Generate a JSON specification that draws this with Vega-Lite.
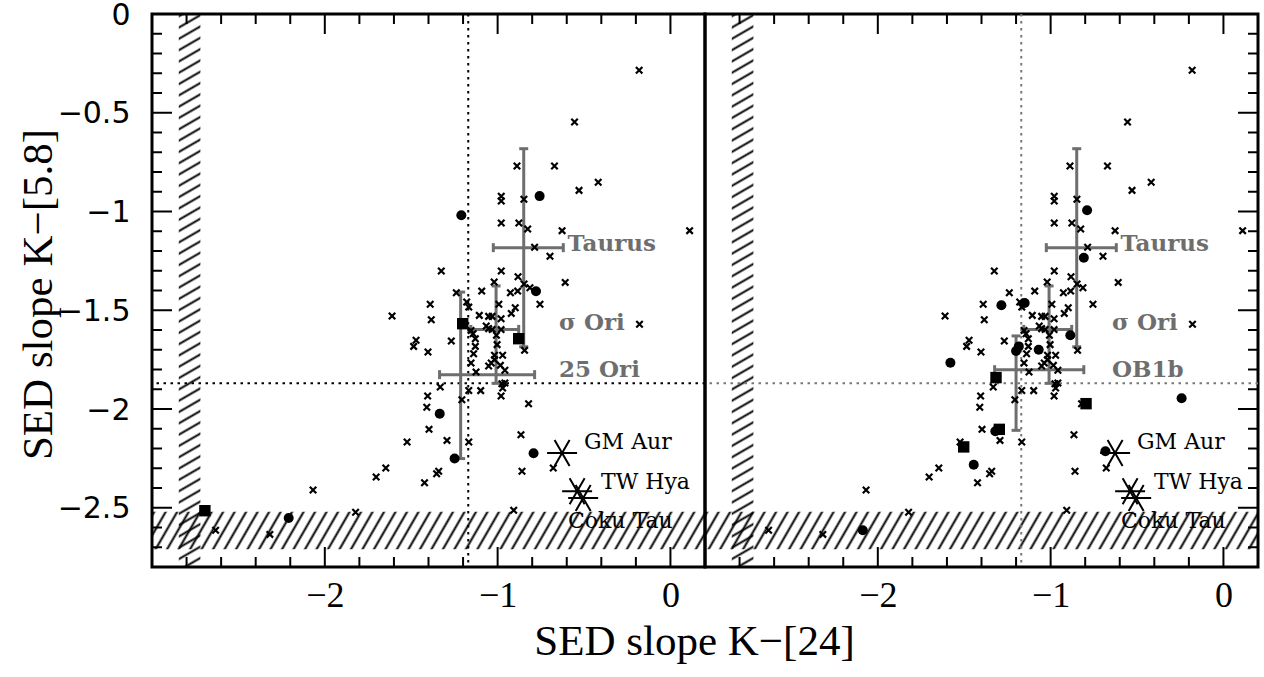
{
"$schema": "https://vega.github.io/schema/vega-lite/v6.json",
"background": "white",
"padding": {"left": 15, "top": -2, "right": 5, "bottom": 5},
"spacing": 0,
"bounds": "flush",
"config": {
 "view": {"stroke": "#000", "strokeWidth": 3},
 "axis": {"domain": false, "ticks": false, "grid": false, "labelColor": "#000", "titleColor": "#000", "zindex": 2},
 "rect": {"stroke": null, "color": {"gradient": "linear", "x1": 0, "y1": 0, "x2": 0.02305, "y2": 1.02203, "stops": [
{"offset":0,"color":"#0000"},{"offset":0.004,"color":"#000"},{"offset":0.008,"color":"#0000"},
{"offset":0.02,"color":"#0000"},{"offset":0.024,"color":"#000"},{"offset":0.028,"color":"#0000"},
{"offset":0.04,"color":"#0000"},{"offset":0.044,"color":"#000"},{"offset":0.048,"color":"#0000"},
{"offset":0.06,"color":"#0000"},{"offset":0.064,"color":"#000"},{"offset":0.068,"color":"#0000"},
{"offset":0.08,"color":"#0000"},{"offset":0.084,"color":"#000"},{"offset":0.088,"color":"#0000"},
{"offset":0.1,"color":"#0000"},{"offset":0.104,"color":"#000"},{"offset":0.108,"color":"#0000"},
{"offset":0.12,"color":"#0000"},{"offset":0.124,"color":"#000"},{"offset":0.128,"color":"#0000"},
{"offset":0.14,"color":"#0000"},{"offset":0.144,"color":"#000"},{"offset":0.148,"color":"#0000"},
{"offset":0.16,"color":"#0000"},{"offset":0.164,"color":"#000"},{"offset":0.168,"color":"#0000"},
{"offset":0.18,"color":"#0000"},{"offset":0.184,"color":"#000"},{"offset":0.188,"color":"#0000"},
{"offset":0.2,"color":"#0000"},{"offset":0.204,"color":"#000"},{"offset":0.208,"color":"#0000"},
{"offset":0.22,"color":"#0000"},{"offset":0.224,"color":"#000"},{"offset":0.228,"color":"#0000"},
{"offset":0.24,"color":"#0000"},{"offset":0.244,"color":"#000"},{"offset":0.248,"color":"#0000"},
{"offset":0.26,"color":"#0000"},{"offset":0.264,"color":"#000"},{"offset":0.268,"color":"#0000"},
{"offset":0.28,"color":"#0000"},{"offset":0.284,"color":"#000"},{"offset":0.288,"color":"#0000"},
{"offset":0.3,"color":"#0000"},{"offset":0.304,"color":"#000"},{"offset":0.308,"color":"#0000"},
{"offset":0.32,"color":"#0000"},{"offset":0.324,"color":"#000"},{"offset":0.328,"color":"#0000"},
{"offset":0.34,"color":"#0000"},{"offset":0.344,"color":"#000"},{"offset":0.348,"color":"#0000"},
{"offset":0.36,"color":"#0000"},{"offset":0.364,"color":"#000"},{"offset":0.368,"color":"#0000"},
{"offset":0.38,"color":"#0000"},{"offset":0.384,"color":"#000"},{"offset":0.388,"color":"#0000"},
{"offset":0.4,"color":"#0000"},{"offset":0.404,"color":"#000"},{"offset":0.408,"color":"#0000"},
{"offset":0.42,"color":"#0000"},{"offset":0.424,"color":"#000"},{"offset":0.428,"color":"#0000"},
{"offset":0.44,"color":"#0000"},{"offset":0.444,"color":"#000"},{"offset":0.448,"color":"#0000"},
{"offset":0.46,"color":"#0000"},{"offset":0.464,"color":"#000"},{"offset":0.468,"color":"#0000"},
{"offset":0.48,"color":"#0000"},{"offset":0.484,"color":"#000"},{"offset":0.488,"color":"#0000"},
{"offset":0.5,"color":"#0000"},{"offset":0.504,"color":"#000"},{"offset":0.508,"color":"#0000"},
{"offset":0.52,"color":"#0000"},{"offset":0.524,"color":"#000"},{"offset":0.528,"color":"#0000"},
{"offset":0.54,"color":"#0000"},{"offset":0.544,"color":"#000"},{"offset":0.548,"color":"#0000"},
{"offset":0.56,"color":"#0000"},{"offset":0.564,"color":"#000"},{"offset":0.568,"color":"#0000"},
{"offset":0.58,"color":"#0000"},{"offset":0.584,"color":"#000"},{"offset":0.588,"color":"#0000"},
{"offset":0.6,"color":"#0000"},{"offset":0.604,"color":"#000"},{"offset":0.608,"color":"#0000"},
{"offset":0.62,"color":"#0000"},{"offset":0.624,"color":"#000"},{"offset":0.628,"color":"#0000"},
{"offset":0.64,"color":"#0000"},{"offset":0.644,"color":"#000"},{"offset":0.648,"color":"#0000"},
{"offset":0.66,"color":"#0000"},{"offset":0.664,"color":"#000"},{"offset":0.668,"color":"#0000"},
{"offset":0.68,"color":"#0000"},{"offset":0.684,"color":"#000"},{"offset":0.688,"color":"#0000"},
{"offset":0.7,"color":"#0000"},{"offset":0.704,"color":"#000"},{"offset":0.708,"color":"#0000"},
{"offset":0.72,"color":"#0000"},{"offset":0.724,"color":"#000"},{"offset":0.728,"color":"#0000"},
{"offset":0.74,"color":"#0000"},{"offset":0.744,"color":"#000"},{"offset":0.748,"color":"#0000"},
{"offset":0.76,"color":"#0000"},{"offset":0.764,"color":"#000"},{"offset":0.768,"color":"#0000"},
{"offset":0.78,"color":"#0000"},{"offset":0.784,"color":"#000"},{"offset":0.788,"color":"#0000"},
{"offset":0.8,"color":"#0000"},{"offset":0.804,"color":"#000"},{"offset":0.808,"color":"#0000"},
{"offset":0.82,"color":"#0000"},{"offset":0.824,"color":"#000"},{"offset":0.828,"color":"#0000"},
{"offset":0.84,"color":"#0000"},{"offset":0.844,"color":"#000"},{"offset":0.848,"color":"#0000"},
{"offset":0.86,"color":"#0000"},{"offset":0.864,"color":"#000"},{"offset":0.868,"color":"#0000"},
{"offset":0.88,"color":"#0000"},{"offset":0.884,"color":"#000"},{"offset":0.888,"color":"#0000"},
{"offset":0.9,"color":"#0000"},{"offset":0.904,"color":"#000"},{"offset":0.908,"color":"#0000"},
{"offset":0.92,"color":"#0000"},{"offset":0.924,"color":"#000"},{"offset":0.928,"color":"#0000"},
{"offset":0.94,"color":"#0000"},{"offset":0.944,"color":"#000"},{"offset":0.948,"color":"#0000"},
{"offset":0.96,"color":"#0000"},{"offset":0.964,"color":"#000"},{"offset":0.968,"color":"#0000"},
{"offset":0.98,"color":"#0000"},{"offset":0.984,"color":"#000"},{"offset":0.988,"color":"#0000"}
 ]}}
},
"datasets": {
 "limits": [
  {"band": "K-[24]", "xlo": -2.845, "xhi": -2.72, "ylo": -2.8, "yhi": 0},
  {"band": "K-[5.8]", "xlo": -3, "xhi": 0.2, "ylo": -2.71, "yhi": -2.52}
 ],
 "xticks": [
  {"k24": -2.8, "major": false, "edge": "bottom", "k58": -2.8}, {"k24": -2.6, "major": false, "edge": "bottom", "k58": -2.8}, {"k24": -2.4, "major": false, "edge": "bottom", "k58": -2.8},
  {"k24": -2.2, "major": false, "edge": "bottom", "k58": -2.8}, {"k24": -2, "major": true, "edge": "bottom", "k58": -2.8}, {"k24": -1.8, "major": false, "edge": "bottom", "k58": -2.8},
  {"k24": -1.6, "major": false, "edge": "bottom", "k58": -2.8}, {"k24": -1.4, "major": false, "edge": "bottom", "k58": -2.8}, {"k24": -1.2, "major": false, "edge": "bottom", "k58": -2.8},
  {"k24": -1, "major": true, "edge": "bottom", "k58": -2.8}, {"k24": -0.8, "major": false, "edge": "bottom", "k58": -2.8}, {"k24": -0.6, "major": false, "edge": "bottom", "k58": -2.8},
  {"k24": -0.4, "major": false, "edge": "bottom", "k58": -2.8}, {"k24": -0.2, "major": false, "edge": "bottom", "k58": -2.8}, {"k24": 0, "major": true, "edge": "bottom", "k58": -2.8},
  {"k24": -2.8, "major": false, "edge": "top", "k58": 0}, {"k24": -2.6, "major": false, "edge": "top", "k58": 0}, {"k24": -2.4, "major": false, "edge": "top", "k58": 0},
  {"k24": -2.2, "major": false, "edge": "top", "k58": 0}, {"k24": -2, "major": true, "edge": "top", "k58": 0}, {"k24": -1.8, "major": false, "edge": "top", "k58": 0},
  {"k24": -1.6, "major": false, "edge": "top", "k58": 0}, {"k24": -1.4, "major": false, "edge": "top", "k58": 0}, {"k24": -1.2, "major": false, "edge": "top", "k58": 0},
  {"k24": -1, "major": true, "edge": "top", "k58": 0}, {"k24": -0.8, "major": false, "edge": "top", "k58": 0}, {"k24": -0.6, "major": false, "edge": "top", "k58": 0},
  {"k24": -0.4, "major": false, "edge": "top", "k58": 0}, {"k24": -0.2, "major": false, "edge": "top", "k58": 0}, {"k24": 0, "major": true, "edge": "top", "k58": 0}
 ],
 "yticks": [
  {"k58": -0.1, "major": false, "edge": "left", "k24": -3}, {"k58": -0.2, "major": false, "edge": "left", "k24": -3}, {"k58": -0.3, "major": false, "edge": "left", "k24": -3},
  {"k58": -0.4, "major": false, "edge": "left", "k24": -3}, {"k58": -0.5, "major": true, "edge": "left", "k24": -3}, {"k58": -0.6, "major": false, "edge": "left", "k24": -3},
  {"k58": -0.7, "major": false, "edge": "left", "k24": -3}, {"k58": -0.8, "major": false, "edge": "left", "k24": -3}, {"k58": -0.9, "major": false, "edge": "left", "k24": -3},
  {"k58": -1, "major": true, "edge": "left", "k24": -3}, {"k58": -1.1, "major": false, "edge": "left", "k24": -3}, {"k58": -1.2, "major": false, "edge": "left", "k24": -3},
  {"k58": -1.3, "major": false, "edge": "left", "k24": -3}, {"k58": -1.4, "major": false, "edge": "left", "k24": -3}, {"k58": -1.5, "major": true, "edge": "left", "k24": -3},
  {"k58": -1.6, "major": false, "edge": "left", "k24": -3}, {"k58": -1.7, "major": false, "edge": "left", "k24": -3}, {"k58": -1.8, "major": false, "edge": "left", "k24": -3},
  {"k58": -1.9, "major": false, "edge": "left", "k24": -3}, {"k58": -2, "major": true, "edge": "left", "k24": -3}, {"k58": -2.1, "major": false, "edge": "left", "k24": -3},
  {"k58": -2.2, "major": false, "edge": "left", "k24": -3}, {"k58": -2.3, "major": false, "edge": "left", "k24": -3}, {"k58": -2.4, "major": false, "edge": "left", "k24": -3},
  {"k58": -2.5, "major": true, "edge": "left", "k24": -3}, {"k58": -2.6, "major": false, "edge": "left", "k24": -3}, {"k58": -2.7, "major": false, "edge": "left", "k24": -3},
  {"k58": -0.1, "major": false, "edge": "right", "k24": 0.2}, {"k58": -0.2, "major": false, "edge": "right", "k24": 0.2}, {"k58": -0.3, "major": false, "edge": "right", "k24": 0.2},
  {"k58": -0.4, "major": false, "edge": "right", "k24": 0.2}, {"k58": -0.5, "major": true, "edge": "right", "k24": 0.2}, {"k58": -0.6, "major": false, "edge": "right", "k24": 0.2},
  {"k58": -0.7, "major": false, "edge": "right", "k24": 0.2}, {"k58": -0.8, "major": false, "edge": "right", "k24": 0.2}, {"k58": -0.9, "major": false, "edge": "right", "k24": 0.2},
  {"k58": -1, "major": true, "edge": "right", "k24": 0.2}, {"k58": -1.1, "major": false, "edge": "right", "k24": 0.2}, {"k58": -1.2, "major": false, "edge": "right", "k24": 0.2},
  {"k58": -1.3, "major": false, "edge": "right", "k24": 0.2}, {"k58": -1.4, "major": false, "edge": "right", "k24": 0.2}, {"k58": -1.5, "major": true, "edge": "right", "k24": 0.2},
  {"k58": -1.6, "major": false, "edge": "right", "k24": 0.2}, {"k58": -1.7, "major": false, "edge": "right", "k24": 0.2}, {"k58": -1.8, "major": false, "edge": "right", "k24": 0.2},
  {"k58": -1.9, "major": false, "edge": "right", "k24": 0.2}, {"k58": -2, "major": true, "edge": "right", "k24": 0.2}, {"k58": -2.1, "major": false, "edge": "right", "k24": 0.2},
  {"k58": -2.2, "major": false, "edge": "right", "k24": 0.2}, {"k58": -2.3, "major": false, "edge": "right", "k24": 0.2}, {"k58": -2.4, "major": false, "edge": "right", "k24": 0.2},
  {"k58": -2.5, "major": true, "edge": "right", "k24": 0.2}, {"k58": -2.6, "major": false, "edge": "right", "k24": 0.2}, {"k58": -2.7, "major": false, "edge": "right", "k24": 0.2}
 ],
 "cuts": [{"k24": -1.17, "k58": -1.87}],
 "groups": [
  {"name": "Taurus", "panel": "both", "k24": -0.849, "k58": -1.183, "lo24": -1.025, "hi24": -0.62, "lo58": -1.685, "hi58": -0.682, "lab24": -0.595, "lab58": -1.165},
  {"name": "σ Ori", "panel": "both", "k24": -1.009, "k58": -1.597, "lo24": -1.155, "hi24": -0.878, "lo58": -1.87, "hi58": -1.377, "lab24": -0.645, "lab58": -1.565},
  {"name": "25 Ori", "panel": "left", "k24": -1.214, "k58": -1.826, "lo24": -1.336, "hi24": -0.786, "lo58": -2.251, "hi58": -1.408, "lab24": -0.645, "lab58": -1.803},
  {"name": "OB1b", "panel": "right", "k24": -1.2, "k58": -1.801, "lo24": -1.324, "hi24": -0.808, "lo58": -2.108, "hi58": -1.63, "lab24": -0.645, "lab58": -1.803}
 ],
 "stars": [
  {"name": "GM Aur", "k24": -0.627, "k58": -2.223, "lab24": -0.5, "lab58": -2.167},
  {"name": "TW Hya", "k24": -0.54, "k58": -2.417, "lab24": -0.402, "lab58": -2.37},
  {"name": "Coku Tau", "k24": -0.505, "k58": -2.451, "lab24": -0.593, "lab58": -2.567}
 ],
 "orion": [
  {"region": "25 Ori", "kind": "circle", "k24": -0.757, "k58": -0.922},
  {"region": "25 Ori", "kind": "circle", "k24": -1.21, "k58": -1.019},
  {"region": "25 Ori", "kind": "circle", "k24": -0.778, "k58": -1.404},
  {"region": "25 Ori", "kind": "circle", "k24": -1.335, "k58": -2.024},
  {"region": "25 Ori", "kind": "circle", "k24": -0.792, "k58": -2.224},
  {"region": "25 Ori", "kind": "circle", "k24": -1.249, "k58": -2.251},
  {"region": "25 Ori", "kind": "circle", "k24": -2.209, "k58": -2.552},
  {"region": "25 Ori", "kind": "square", "k24": -1.202, "k58": -1.568},
  {"region": "25 Ori", "kind": "square", "k24": -0.878, "k58": -1.644},
  {"region": "25 Ori", "kind": "square", "k24": -2.694, "k58": -2.515},
  {"region": "OB1b", "kind": "circle", "k24": -0.789, "k58": -0.994},
  {"region": "OB1b", "kind": "circle", "k24": -0.808, "k58": -1.234},
  {"region": "OB1b", "kind": "circle", "k24": -1.285, "k58": -1.475},
  {"region": "OB1b", "kind": "circle", "k24": -1.15, "k58": -1.463},
  {"region": "OB1b", "kind": "circle", "k24": -1.58, "k58": -1.766},
  {"region": "OB1b", "kind": "circle", "k24": -1.184, "k58": -1.683},
  {"region": "OB1b", "kind": "circle", "k24": -1.2, "k58": -1.706},
  {"region": "OB1b", "kind": "circle", "k24": -1.069, "k58": -1.7},
  {"region": "OB1b", "kind": "circle", "k24": -0.886, "k58": -1.627},
  {"region": "OB1b", "kind": "circle", "k24": -1.32, "k58": -2.113},
  {"region": "OB1b", "kind": "circle", "k24": -1.445, "k58": -2.282},
  {"region": "OB1b", "kind": "circle", "k24": -0.683, "k58": -2.214},
  {"region": "OB1b", "kind": "circle", "k24": -0.242, "k58": -1.946},
  {"region": "OB1b", "kind": "circle", "k24": -2.087, "k58": -2.614},
  {"region": "OB1b", "kind": "square", "k24": -1.316, "k58": -1.841},
  {"region": "OB1b", "kind": "square", "k24": -0.795, "k58": -1.973},
  {"region": "OB1b", "kind": "square", "k24": -1.297, "k58": -2.103},
  {"region": "OB1b", "kind": "square", "k24": -1.503, "k58": -2.192}
 ],
 "taurus": [
  {"k24":-0.181,"k58":-0.285},{"k24":-0.555,"k58":-0.547},{"k24":-0.888,"k58":-0.77},{"k24":-0.671,"k58":-0.77},
  {"k24":-0.418,"k58":-0.852},{"k24":-0.529,"k58":-0.893},{"k24":-0.979,"k58":-0.923},{"k24":-0.979,"k58":-0.947},
  {"k24":-0.848,"k58":-0.938},{"k24":-0.979,"k58":-1.058},{"k24":-0.877,"k58":-1.058},{"k24":-0.826,"k58":-1.089},
  {"k24":-0.627,"k58":-1.097},{"k24":0.111,"k58":-1.097},{"k24":-0.786,"k58":-1.181},{"k24":-0.697,"k58":-1.227},
  {"k24":-1.326,"k58":-1.301},{"k24":-0.979,"k58":-1.301},{"k24":-0.882,"k58":-1.33},{"k24":-1.02,"k58":-1.357},
  {"k24":-0.847,"k58":-1.367},{"k24":-0.609,"k58":-1.359},{"k24":-0.813,"k58":-1.386},{"k24":-1.239,"k58":-1.411},
  {"k24":-1.092,"k58":-1.403},{"k24":-0.926,"k58":-1.411},{"k24":-0.884,"k58":-1.403},{"k24":-1.179,"k58":-1.458},
  {"k24":-1.167,"k58":-1.484},{"k24":-1.39,"k58":-1.47},{"k24":-0.993,"k58":-1.47},{"k24":-0.755,"k58":-1.47},
  {"k24":-0.898,"k58":-1.487},{"k24":-0.921,"k58":-1.516},{"k24":-1.106,"k58":-1.526},{"k24":-1.052,"k58":-1.531},
  {"k24":-1.032,"k58":-1.531},{"k24":-0.98,"k58":-1.543},{"k24":-1.384,"k58":-1.548},{"k24":-1.611,"k58":-1.529},
  {"k24":-1.154,"k58":-1.602},{"k24":-1.142,"k58":-1.619},{"k24":-1.066,"k58":-1.58},{"k24":-1.052,"k58":-1.593},
  {"k24":-1.032,"k58":-1.597},{"k24":-0.98,"k58":-1.598},{"k24":-0.844,"k58":-1.703},{"k24":-1.007,"k58":-1.627},
  {"k24":-1.003,"k58":-1.674},{"k24":-1.129,"k58":-1.644},{"k24":-1.129,"k58":-1.683},{"k24":-1.472,"k58":-1.652},
  {"k24":-1.486,"k58":-1.683},{"k24":-1.268,"k58":-1.656},{"k24":-1.403,"k58":-1.711},{"k24":-1.139,"k58":-1.72},
  {"k24":-1.018,"k58":-1.728},{"k24":-0.971,"k58":-1.728},{"k24":-1.018,"k58":-1.75},{"k24":-1.154,"k58":-1.767},
  {"k24":-1.052,"k58":-1.782},{"k24":-1.037,"k58":-1.767},{"k24":-0.984,"k58":-1.779},{"k24":-0.958,"k58":-1.804},
  {"k24":-1.125,"k58":-1.813},{"k24":-1.332,"k58":-1.889},{"k24":-1.167,"k58":-1.906},{"k24":-1.098,"k58":-1.907},
  {"k24":-0.975,"k58":-1.872},{"k24":-0.958,"k58":-1.868},{"k24":-0.971,"k58":-1.894},{"k24":-0.98,"k58":-1.934},
  {"k24":-1.405,"k58":-1.934},{"k24":-1.41,"k58":-1.991},{"k24":-1.207,"k58":-1.953},{"k24":-0.821,"k58":-1.973},
  {"k24":-1.397,"k58":-2.103},{"k24":-1.524,"k58":-2.167},{"k24":-1.293,"k58":-2.159},{"k24":-1.167,"k58":-2.167},
  {"k24":-0.865,"k58":-2.13},{"k24":-0.678,"k58":-2.299},{"k24":-1.341,"k58":-2.315},{"k24":-0.859,"k58":-2.315},
  {"k24":-1.703,"k58":-2.344},{"k24":-1.647,"k58":-2.299},{"k24":-1.423,"k58":-2.373},{"k24":-1.353,"k58":-2.328},
  {"k24":-2.068,"k58":-2.41},{"k24":-1.822,"k58":-2.523},{"k24":-0.907,"k58":-2.513},{"k24":-2.632,"k58":-2.614},
  {"k24":-2.318,"k58":-2.635},{"k24":-0.179,"k58":-1.571}
 ]
},
"hconcat": [
 {
  "width": 553, "height": 553,
  "resolve": {"axis": {"x": "independent", "y": "independent"}},
  "layer": [
   {"data": {"name": "limits"}, "transform": [{"filter": "datum.band == 'K-[24]'"}], "mark": {"type": "rect"},
    "encoding": {"x": {"field": "xlo", "type": "quantitative", "scale": {"domain": [-3, 0.2], "nice": false, "zero": false}, "axis": null}, "x2": {"field": "xhi"},
                 "y": {"field": "ylo", "type": "quantitative", "scale": {"domain": [-2.8, 0], "nice": false, "zero": false}, "axis": null}, "y2": {"field": "yhi"}}},
   {"data": {"name": "limits"}, "transform": [{"filter": "datum.band == 'K-[5.8]'"}],
    "mark": {"type": "rect", "color": {"gradient": "linear", "x1": 0, "y1": 0, "x2": 1.03756, "y2": 0.040625, "stops": [
{"offset":0,"color":"#0000"},{"offset":0.004,"color":"#000"},{"offset":0.008,"color":"#0000"},
{"offset":0.02,"color":"#0000"},{"offset":0.024,"color":"#000"},{"offset":0.028,"color":"#0000"},
{"offset":0.04,"color":"#0000"},{"offset":0.044,"color":"#000"},{"offset":0.048,"color":"#0000"},
{"offset":0.06,"color":"#0000"},{"offset":0.064,"color":"#000"},{"offset":0.068,"color":"#0000"},
{"offset":0.08,"color":"#0000"},{"offset":0.084,"color":"#000"},{"offset":0.088,"color":"#0000"},
{"offset":0.1,"color":"#0000"},{"offset":0.104,"color":"#000"},{"offset":0.108,"color":"#0000"},
{"offset":0.12,"color":"#0000"},{"offset":0.124,"color":"#000"},{"offset":0.128,"color":"#0000"},
{"offset":0.14,"color":"#0000"},{"offset":0.144,"color":"#000"},{"offset":0.148,"color":"#0000"},
{"offset":0.16,"color":"#0000"},{"offset":0.164,"color":"#000"},{"offset":0.168,"color":"#0000"},
{"offset":0.18,"color":"#0000"},{"offset":0.184,"color":"#000"},{"offset":0.188,"color":"#0000"},
{"offset":0.2,"color":"#0000"},{"offset":0.204,"color":"#000"},{"offset":0.208,"color":"#0000"},
{"offset":0.22,"color":"#0000"},{"offset":0.224,"color":"#000"},{"offset":0.228,"color":"#0000"},
{"offset":0.24,"color":"#0000"},{"offset":0.244,"color":"#000"},{"offset":0.248,"color":"#0000"},
{"offset":0.26,"color":"#0000"},{"offset":0.264,"color":"#000"},{"offset":0.268,"color":"#0000"},
{"offset":0.28,"color":"#0000"},{"offset":0.284,"color":"#000"},{"offset":0.288,"color":"#0000"},
{"offset":0.3,"color":"#0000"},{"offset":0.304,"color":"#000"},{"offset":0.308,"color":"#0000"},
{"offset":0.32,"color":"#0000"},{"offset":0.324,"color":"#000"},{"offset":0.328,"color":"#0000"},
{"offset":0.34,"color":"#0000"},{"offset":0.344,"color":"#000"},{"offset":0.348,"color":"#0000"},
{"offset":0.36,"color":"#0000"},{"offset":0.364,"color":"#000"},{"offset":0.368,"color":"#0000"},
{"offset":0.38,"color":"#0000"},{"offset":0.384,"color":"#000"},{"offset":0.388,"color":"#0000"},
{"offset":0.4,"color":"#0000"},{"offset":0.404,"color":"#000"},{"offset":0.408,"color":"#0000"},
{"offset":0.42,"color":"#0000"},{"offset":0.424,"color":"#000"},{"offset":0.428,"color":"#0000"},
{"offset":0.44,"color":"#0000"},{"offset":0.444,"color":"#000"},{"offset":0.448,"color":"#0000"},
{"offset":0.46,"color":"#0000"},{"offset":0.464,"color":"#000"},{"offset":0.468,"color":"#0000"},
{"offset":0.48,"color":"#0000"},{"offset":0.484,"color":"#000"},{"offset":0.488,"color":"#0000"},
{"offset":0.5,"color":"#0000"},{"offset":0.504,"color":"#000"},{"offset":0.508,"color":"#0000"},
{"offset":0.52,"color":"#0000"},{"offset":0.524,"color":"#000"},{"offset":0.528,"color":"#0000"},
{"offset":0.54,"color":"#0000"},{"offset":0.544,"color":"#000"},{"offset":0.548,"color":"#0000"},
{"offset":0.56,"color":"#0000"},{"offset":0.564,"color":"#000"},{"offset":0.568,"color":"#0000"},
{"offset":0.58,"color":"#0000"},{"offset":0.584,"color":"#000"},{"offset":0.588,"color":"#0000"},
{"offset":0.6,"color":"#0000"},{"offset":0.604,"color":"#000"},{"offset":0.608,"color":"#0000"},
{"offset":0.62,"color":"#0000"},{"offset":0.624,"color":"#000"},{"offset":0.628,"color":"#0000"},
{"offset":0.64,"color":"#0000"},{"offset":0.644,"color":"#000"},{"offset":0.648,"color":"#0000"},
{"offset":0.66,"color":"#0000"},{"offset":0.664,"color":"#000"},{"offset":0.668,"color":"#0000"},
{"offset":0.68,"color":"#0000"},{"offset":0.684,"color":"#000"},{"offset":0.688,"color":"#0000"},
{"offset":0.7,"color":"#0000"},{"offset":0.704,"color":"#000"},{"offset":0.708,"color":"#0000"},
{"offset":0.72,"color":"#0000"},{"offset":0.724,"color":"#000"},{"offset":0.728,"color":"#0000"},
{"offset":0.74,"color":"#0000"},{"offset":0.744,"color":"#000"},{"offset":0.748,"color":"#0000"},
{"offset":0.76,"color":"#0000"},{"offset":0.764,"color":"#000"},{"offset":0.768,"color":"#0000"},
{"offset":0.78,"color":"#0000"},{"offset":0.784,"color":"#000"},{"offset":0.788,"color":"#0000"},
{"offset":0.8,"color":"#0000"},{"offset":0.804,"color":"#000"},{"offset":0.808,"color":"#0000"},
{"offset":0.82,"color":"#0000"},{"offset":0.824,"color":"#000"},{"offset":0.828,"color":"#0000"},
{"offset":0.84,"color":"#0000"},{"offset":0.844,"color":"#000"},{"offset":0.848,"color":"#0000"},
{"offset":0.86,"color":"#0000"},{"offset":0.864,"color":"#000"},{"offset":0.868,"color":"#0000"},
{"offset":0.88,"color":"#0000"},{"offset":0.884,"color":"#000"},{"offset":0.888,"color":"#0000"},
{"offset":0.9,"color":"#0000"},{"offset":0.904,"color":"#000"},{"offset":0.908,"color":"#0000"},
{"offset":0.92,"color":"#0000"},{"offset":0.924,"color":"#000"},{"offset":0.928,"color":"#0000"},
{"offset":0.94,"color":"#0000"},{"offset":0.944,"color":"#000"},{"offset":0.948,"color":"#0000"},
{"offset":0.96,"color":"#0000"},{"offset":0.964,"color":"#000"},{"offset":0.968,"color":"#0000"},
{"offset":0.98,"color":"#0000"},{"offset":0.984,"color":"#000"},{"offset":0.988,"color":"#0000"}
    ]}},
    "encoding": {"x": {"field": "xlo", "type": "quantitative", "scale": {"domain": [-3, 0.2], "nice": false, "zero": false}, "axis": null}, "x2": {"field": "xhi"},
                 "y": {"field": "ylo", "type": "quantitative", "scale": {"domain": [-2.8, 0], "nice": false, "zero": false}, "axis": null}, "y2": {"field": "yhi"}}},
   {"data": {"name": "cuts"}, "mark": {"type": "rule", "color": "#000", "strokeWidth": 2, "strokeDash": [2.5, 4.5]},
    "encoding": {"x": {"field": "k24", "type": "quantitative", "scale": {"domain": [-3, 0.2], "nice": false, "zero": false}, "axis": null}}},
   {"data": {"name": "cuts"}, "mark": {"type": "rule", "color": "#000", "strokeWidth": 2, "strokeDash": [2.5, 4.5]},
    "encoding": {"y": {"field": "k58", "type": "quantitative", "scale": {"domain": [-2.8, 0], "nice": false, "zero": false}, "axis": null}}},
   {"data": {"name": "groups"}, "transform": [{"filter": "datum.panel != 'right'"}], "mark": {"type": "rule", "color": "#6e6e6e", "strokeWidth": 3},
    "encoding": {"x": {"field": "lo24", "type": "quantitative", "scale": {"domain": [-3, 0.2], "nice": false, "zero": false}, "axis": null}, "x2": {"field": "hi24"},
                 "y": {"field": "k58", "type": "quantitative", "scale": {"domain": [-2.8, 0], "nice": false, "zero": false}, "axis": null}}},
   {"data": {"name": "groups"}, "transform": [{"filter": "datum.panel != 'right'"}], "mark": {"type": "rule", "color": "#6e6e6e", "strokeWidth": 3},
    "encoding": {"x": {"field": "k24", "type": "quantitative", "scale": {"domain": [-3, 0.2], "nice": false, "zero": false}, "axis": null},
                 "y": {"field": "lo58", "type": "quantitative", "scale": {"domain": [-2.8, 0], "nice": false, "zero": false}, "axis": null}, "y2": {"field": "hi58"}}},
   {"data": {"name": "groups"}, "transform": [{"filter": "datum.panel != 'right'"}, {"fold": ["lo24", "hi24"], "as": ["end", "cap24"]}],
    "mark": {"type": "tick", "orient": "vertical", "size": 9, "thickness": 3, "color": "#6e6e6e", "opacity": 1},
    "encoding": {"x": {"field": "cap24", "type": "quantitative", "scale": {"domain": [-3, 0.2], "nice": false, "zero": false}, "axis": null},
                 "y": {"field": "k58", "type": "quantitative", "scale": {"domain": [-2.8, 0], "nice": false, "zero": false}, "axis": null}}},
   {"data": {"name": "groups"}, "transform": [{"filter": "datum.panel != 'right'"}, {"fold": ["lo58", "hi58"], "as": ["end", "cap58"]}],
    "mark": {"type": "tick", "orient": "horizontal", "size": 9, "thickness": 3, "color": "#6e6e6e", "opacity": 1},
    "encoding": {"x": {"field": "k24", "type": "quantitative", "scale": {"domain": [-3, 0.2], "nice": false, "zero": false}, "axis": null},
                 "y": {"field": "cap58", "type": "quantitative", "scale": {"domain": [-2.8, 0], "nice": false, "zero": false}, "axis": null}}},
   {"data": {"name": "xticks"}, "transform": [{"filter": "datum.edge == 'bottom'"}], "mark": {"type": "point", "shape": "M0,0L0,-1", "filled": false, "stroke": "#000", "strokeWidth": 2, "opacity": 1},
    "encoding": {"x": {"field": "k24", "type": "quantitative", "scale": {"domain": [-3, 0.2], "nice": false, "zero": false}, "axis": null},
                 "y": {"field": "k58", "type": "quantitative", "scale": {"domain": [-2.8, 0], "nice": false, "zero": false}, "axis": null},
                 "size": {"condition": {"test": "datum.major", "value": 1600}, "value": 400}}},
   {"data": {"name": "xticks"}, "transform": [{"filter": "datum.edge == 'top'"}], "mark": {"type": "point", "shape": "M0,0L0,1", "filled": false, "stroke": "#000", "strokeWidth": 2, "opacity": 1},
    "encoding": {"x": {"field": "k24", "type": "quantitative", "scale": {"domain": [-3, 0.2], "nice": false, "zero": false}, "axis": null},
                 "y": {"field": "k58", "type": "quantitative", "scale": {"domain": [-2.8, 0], "nice": false, "zero": false}, "axis": null},
                 "size": {"condition": {"test": "datum.major", "value": 1600}, "value": 400}}},
   {"data": {"name": "yticks"}, "transform": [{"filter": "datum.edge == 'left'"}], "mark": {"type": "point", "shape": "M0,0L1,0", "filled": false, "stroke": "#000", "strokeWidth": 2, "opacity": 1},
    "encoding": {"x": {"field": "k24", "type": "quantitative", "scale": {"domain": [-3, 0.2], "nice": false, "zero": false}, "axis": null},
                 "y": {"field": "k58", "type": "quantitative", "scale": {"domain": [-2.8, 0], "nice": false, "zero": false}, "axis": null},
                 "size": {"condition": {"test": "datum.major", "value": 1600}, "value": 400}}},
   {"data": {"name": "taurus"}, "mark": {"type": "point", "shape": "M-1,-1L1,1M-1,1L1,-1", "filled": false, "stroke": "#000", "strokeWidth": 2.2, "size": 42, "opacity": 1},
    "encoding": {
     "x": {"field": "k24", "type": "quantitative", "scale": {"domain": [-3, 0.2], "nice": false, "zero": false},
           "axis": {"orient": "bottom", "values": [-2, -1, 0], "format": "~g", "labelPadding": 11, "labelFont": "Liberation Serif", "labelFontSize": 36,
                    "title": "SED slope K−[24]", "titleFont": "Liberation Serif", "titleFontSize": 43, "titleFontWeight": "normal", "titleX": 542, "titleY": 87, "titleBaseline": "alphabetic", "titleAlign": "center"}},
     "y": {"field": "k58", "type": "quantitative", "scale": {"domain": [-2.8, 0], "nice": false, "zero": false},
           "axis": {"orient": "left", "values": [0, -0.5, -1, -1.5, -2, -2.5], "format": "~g", "labelPadding": 22, "labelOffset": 1, "labelFont": "DejaVu Sans", "labelFontSize": 30,
                    "title": "SED slope K−[5.8]", "titleFont": "Liberation Serif", "titleFontSize": 43, "titleFontWeight": "normal", "titleX": -101, "titleY": 280, "titleBaseline": "alphabetic"}}}},
   {"data": {"name": "orion"}, "transform": [{"filter": "datum.region == '25 Ori' && datum.kind == 'circle'"}], "mark": {"type": "point", "shape": "circle", "filled": true, "color": "#000", "size": 100, "opacity": 1},
    "encoding": {"x": {"field": "k24", "type": "quantitative", "scale": {"domain": [-3, 0.2], "nice": false, "zero": false}, "axis": null},
                 "y": {"field": "k58", "type": "quantitative", "scale": {"domain": [-2.8, 0], "nice": false, "zero": false}, "axis": null}}},
   {"data": {"name": "orion"}, "transform": [{"filter": "datum.region == '25 Ori' && datum.kind == 'square'"}], "mark": {"type": "point", "shape": "square", "filled": true, "color": "#000", "size": 130, "opacity": 1},
    "encoding": {"x": {"field": "k24", "type": "quantitative", "scale": {"domain": [-3, 0.2], "nice": false, "zero": false}, "axis": null},
                 "y": {"field": "k58", "type": "quantitative", "scale": {"domain": [-2.8, 0], "nice": false, "zero": false}, "axis": null}}},
   {"data": {"name": "stars"}, "mark": {"type": "point", "shape": "M-1,0L1,0M-0.5,-0.866L0.5,0.866M0.5,-0.866L-0.5,0.866", "filled": false, "stroke": "#000", "strokeWidth": 2, "size": 900, "opacity": 1},
    "encoding": {"x": {"field": "k24", "type": "quantitative", "scale": {"domain": [-3, 0.2], "nice": false, "zero": false}, "axis": null},
                 "y": {"field": "k58", "type": "quantitative", "scale": {"domain": [-2.8, 0], "nice": false, "zero": false}, "axis": null}}},
   {"data": {"name": "groups"}, "transform": [{"filter": "datum.panel != 'right'"}], "mark": {"type": "text", "align": "left", "baseline": "middle", "font": "DejaVu Serif", "fontSize": 23, "fontWeight": "bold", "color": "#6e6e6e"},
    "encoding": {"x": {"field": "lab24", "type": "quantitative", "scale": {"domain": [-3, 0.2], "nice": false, "zero": false}, "axis": null},
                 "y": {"field": "lab58", "type": "quantitative", "scale": {"domain": [-2.8, 0], "nice": false, "zero": false}, "axis": null}, "text": {"field": "name"}}},
   {"data": {"name": "stars"}, "mark": {"type": "text", "align": "left", "baseline": "middle", "font": "DejaVu Serif", "fontSize": 22, "color": "#000"},
    "encoding": {"x": {"field": "lab24", "type": "quantitative", "scale": {"domain": [-3, 0.2], "nice": false, "zero": false}, "axis": null},
                 "y": {"field": "lab58", "type": "quantitative", "scale": {"domain": [-2.8, 0], "nice": false, "zero": false}, "axis": null}, "text": {"field": "name"}}}
  ]
 },
 {
  "width": 553, "height": 553,
  "resolve": {"axis": {"x": "independent", "y": "independent"}},
  "layer": [
   {"data": {"name": "limits"}, "transform": [{"filter": "datum.band == 'K-[24]'"}], "mark": {"type": "rect"},
    "encoding": {"x": {"field": "xlo", "type": "quantitative", "scale": {"domain": [-3, 0.2], "nice": false, "zero": false}, "axis": null}, "x2": {"field": "xhi"},
                 "y": {"field": "ylo", "type": "quantitative", "scale": {"domain": [-2.8, 0], "nice": false, "zero": false}, "axis": null}, "y2": {"field": "yhi"}}},
   {"data": {"name": "limits"}, "transform": [{"filter": "datum.band == 'K-[5.8]'"}],
    "mark": {"type": "rect", "color": {"gradient": "linear", "x1": 0, "y1": 0, "x2": 1.03756, "y2": 0.040625, "stops": [
{"offset":0,"color":"#0000"},{"offset":0.004,"color":"#000"},{"offset":0.008,"color":"#0000"},
{"offset":0.02,"color":"#0000"},{"offset":0.024,"color":"#000"},{"offset":0.028,"color":"#0000"},
{"offset":0.04,"color":"#0000"},{"offset":0.044,"color":"#000"},{"offset":0.048,"color":"#0000"},
{"offset":0.06,"color":"#0000"},{"offset":0.064,"color":"#000"},{"offset":0.068,"color":"#0000"},
{"offset":0.08,"color":"#0000"},{"offset":0.084,"color":"#000"},{"offset":0.088,"color":"#0000"},
{"offset":0.1,"color":"#0000"},{"offset":0.104,"color":"#000"},{"offset":0.108,"color":"#0000"},
{"offset":0.12,"color":"#0000"},{"offset":0.124,"color":"#000"},{"offset":0.128,"color":"#0000"},
{"offset":0.14,"color":"#0000"},{"offset":0.144,"color":"#000"},{"offset":0.148,"color":"#0000"},
{"offset":0.16,"color":"#0000"},{"offset":0.164,"color":"#000"},{"offset":0.168,"color":"#0000"},
{"offset":0.18,"color":"#0000"},{"offset":0.184,"color":"#000"},{"offset":0.188,"color":"#0000"},
{"offset":0.2,"color":"#0000"},{"offset":0.204,"color":"#000"},{"offset":0.208,"color":"#0000"},
{"offset":0.22,"color":"#0000"},{"offset":0.224,"color":"#000"},{"offset":0.228,"color":"#0000"},
{"offset":0.24,"color":"#0000"},{"offset":0.244,"color":"#000"},{"offset":0.248,"color":"#0000"},
{"offset":0.26,"color":"#0000"},{"offset":0.264,"color":"#000"},{"offset":0.268,"color":"#0000"},
{"offset":0.28,"color":"#0000"},{"offset":0.284,"color":"#000"},{"offset":0.288,"color":"#0000"},
{"offset":0.3,"color":"#0000"},{"offset":0.304,"color":"#000"},{"offset":0.308,"color":"#0000"},
{"offset":0.32,"color":"#0000"},{"offset":0.324,"color":"#000"},{"offset":0.328,"color":"#0000"},
{"offset":0.34,"color":"#0000"},{"offset":0.344,"color":"#000"},{"offset":0.348,"color":"#0000"},
{"offset":0.36,"color":"#0000"},{"offset":0.364,"color":"#000"},{"offset":0.368,"color":"#0000"},
{"offset":0.38,"color":"#0000"},{"offset":0.384,"color":"#000"},{"offset":0.388,"color":"#0000"},
{"offset":0.4,"color":"#0000"},{"offset":0.404,"color":"#000"},{"offset":0.408,"color":"#0000"},
{"offset":0.42,"color":"#0000"},{"offset":0.424,"color":"#000"},{"offset":0.428,"color":"#0000"},
{"offset":0.44,"color":"#0000"},{"offset":0.444,"color":"#000"},{"offset":0.448,"color":"#0000"},
{"offset":0.46,"color":"#0000"},{"offset":0.464,"color":"#000"},{"offset":0.468,"color":"#0000"},
{"offset":0.48,"color":"#0000"},{"offset":0.484,"color":"#000"},{"offset":0.488,"color":"#0000"},
{"offset":0.5,"color":"#0000"},{"offset":0.504,"color":"#000"},{"offset":0.508,"color":"#0000"},
{"offset":0.52,"color":"#0000"},{"offset":0.524,"color":"#000"},{"offset":0.528,"color":"#0000"},
{"offset":0.54,"color":"#0000"},{"offset":0.544,"color":"#000"},{"offset":0.548,"color":"#0000"},
{"offset":0.56,"color":"#0000"},{"offset":0.564,"color":"#000"},{"offset":0.568,"color":"#0000"},
{"offset":0.58,"color":"#0000"},{"offset":0.584,"color":"#000"},{"offset":0.588,"color":"#0000"},
{"offset":0.6,"color":"#0000"},{"offset":0.604,"color":"#000"},{"offset":0.608,"color":"#0000"},
{"offset":0.62,"color":"#0000"},{"offset":0.624,"color":"#000"},{"offset":0.628,"color":"#0000"},
{"offset":0.64,"color":"#0000"},{"offset":0.644,"color":"#000"},{"offset":0.648,"color":"#0000"},
{"offset":0.66,"color":"#0000"},{"offset":0.664,"color":"#000"},{"offset":0.668,"color":"#0000"},
{"offset":0.68,"color":"#0000"},{"offset":0.684,"color":"#000"},{"offset":0.688,"color":"#0000"},
{"offset":0.7,"color":"#0000"},{"offset":0.704,"color":"#000"},{"offset":0.708,"color":"#0000"},
{"offset":0.72,"color":"#0000"},{"offset":0.724,"color":"#000"},{"offset":0.728,"color":"#0000"},
{"offset":0.74,"color":"#0000"},{"offset":0.744,"color":"#000"},{"offset":0.748,"color":"#0000"},
{"offset":0.76,"color":"#0000"},{"offset":0.764,"color":"#000"},{"offset":0.768,"color":"#0000"},
{"offset":0.78,"color":"#0000"},{"offset":0.784,"color":"#000"},{"offset":0.788,"color":"#0000"},
{"offset":0.8,"color":"#0000"},{"offset":0.804,"color":"#000"},{"offset":0.808,"color":"#0000"},
{"offset":0.82,"color":"#0000"},{"offset":0.824,"color":"#000"},{"offset":0.828,"color":"#0000"},
{"offset":0.84,"color":"#0000"},{"offset":0.844,"color":"#000"},{"offset":0.848,"color":"#0000"},
{"offset":0.86,"color":"#0000"},{"offset":0.864,"color":"#000"},{"offset":0.868,"color":"#0000"},
{"offset":0.88,"color":"#0000"},{"offset":0.884,"color":"#000"},{"offset":0.888,"color":"#0000"},
{"offset":0.9,"color":"#0000"},{"offset":0.904,"color":"#000"},{"offset":0.908,"color":"#0000"},
{"offset":0.92,"color":"#0000"},{"offset":0.924,"color":"#000"},{"offset":0.928,"color":"#0000"},
{"offset":0.94,"color":"#0000"},{"offset":0.944,"color":"#000"},{"offset":0.948,"color":"#0000"},
{"offset":0.96,"color":"#0000"},{"offset":0.964,"color":"#000"},{"offset":0.968,"color":"#0000"},
{"offset":0.98,"color":"#0000"},{"offset":0.984,"color":"#000"},{"offset":0.988,"color":"#0000"}
    ]}},
    "encoding": {"x": {"field": "xlo", "type": "quantitative", "scale": {"domain": [-3, 0.2], "nice": false, "zero": false}, "axis": null}, "x2": {"field": "xhi"},
                 "y": {"field": "ylo", "type": "quantitative", "scale": {"domain": [-2.8, 0], "nice": false, "zero": false}, "axis": null}, "y2": {"field": "yhi"}}},
   {"data": {"name": "cuts"}, "mark": {"type": "rule", "color": "#777", "strokeWidth": 2, "strokeDash": [2.5, 4.5]},
    "encoding": {"x": {"field": "k24", "type": "quantitative", "scale": {"domain": [-3, 0.2], "nice": false, "zero": false}, "axis": null}}},
   {"data": {"name": "cuts"}, "mark": {"type": "rule", "color": "#777", "strokeWidth": 2, "strokeDash": [2.5, 4.5]},
    "encoding": {"y": {"field": "k58", "type": "quantitative", "scale": {"domain": [-2.8, 0], "nice": false, "zero": false}, "axis": null}}},
   {"data": {"name": "groups"}, "transform": [{"filter": "datum.panel != 'left'"}], "mark": {"type": "rule", "color": "#6e6e6e", "strokeWidth": 3},
    "encoding": {"x": {"field": "lo24", "type": "quantitative", "scale": {"domain": [-3, 0.2], "nice": false, "zero": false}, "axis": null}, "x2": {"field": "hi24"},
                 "y": {"field": "k58", "type": "quantitative", "scale": {"domain": [-2.8, 0], "nice": false, "zero": false}, "axis": null}}},
   {"data": {"name": "groups"}, "transform": [{"filter": "datum.panel != 'left'"}], "mark": {"type": "rule", "color": "#6e6e6e", "strokeWidth": 3},
    "encoding": {"x": {"field": "k24", "type": "quantitative", "scale": {"domain": [-3, 0.2], "nice": false, "zero": false}, "axis": null},
                 "y": {"field": "lo58", "type": "quantitative", "scale": {"domain": [-2.8, 0], "nice": false, "zero": false}, "axis": null}, "y2": {"field": "hi58"}}},
   {"data": {"name": "groups"}, "transform": [{"filter": "datum.panel != 'left'"}, {"fold": ["lo24", "hi24"], "as": ["end", "cap24"]}],
    "mark": {"type": "tick", "orient": "vertical", "size": 9, "thickness": 3, "color": "#6e6e6e", "opacity": 1},
    "encoding": {"x": {"field": "cap24", "type": "quantitative", "scale": {"domain": [-3, 0.2], "nice": false, "zero": false}, "axis": null},
                 "y": {"field": "k58", "type": "quantitative", "scale": {"domain": [-2.8, 0], "nice": false, "zero": false}, "axis": null}}},
   {"data": {"name": "groups"}, "transform": [{"filter": "datum.panel != 'left'"}, {"fold": ["lo58", "hi58"], "as": ["end", "cap58"]}],
    "mark": {"type": "tick", "orient": "horizontal", "size": 9, "thickness": 3, "color": "#6e6e6e", "opacity": 1},
    "encoding": {"x": {"field": "k24", "type": "quantitative", "scale": {"domain": [-3, 0.2], "nice": false, "zero": false}, "axis": null},
                 "y": {"field": "cap58", "type": "quantitative", "scale": {"domain": [-2.8, 0], "nice": false, "zero": false}, "axis": null}}},
   {"data": {"name": "xticks"}, "transform": [{"filter": "datum.edge == 'bottom'"}], "mark": {"type": "point", "shape": "M0,0L0,-1", "filled": false, "stroke": "#000", "strokeWidth": 2, "opacity": 1},
    "encoding": {"x": {"field": "k24", "type": "quantitative", "scale": {"domain": [-3, 0.2], "nice": false, "zero": false}, "axis": null},
                 "y": {"field": "k58", "type": "quantitative", "scale": {"domain": [-2.8, 0], "nice": false, "zero": false}, "axis": null},
                 "size": {"condition": {"test": "datum.major", "value": 1600}, "value": 400}}},
   {"data": {"name": "xticks"}, "transform": [{"filter": "datum.edge == 'top'"}], "mark": {"type": "point", "shape": "M0,0L0,1", "filled": false, "stroke": "#000", "strokeWidth": 2, "opacity": 1},
    "encoding": {"x": {"field": "k24", "type": "quantitative", "scale": {"domain": [-3, 0.2], "nice": false, "zero": false}, "axis": null},
                 "y": {"field": "k58", "type": "quantitative", "scale": {"domain": [-2.8, 0], "nice": false, "zero": false}, "axis": null},
                 "size": {"condition": {"test": "datum.major", "value": 1600}, "value": 400}}},
   {"data": {"name": "yticks"}, "transform": [{"filter": "datum.edge == 'right'"}], "mark": {"type": "point", "shape": "M0,0L-1,0", "filled": false, "stroke": "#000", "strokeWidth": 2, "opacity": 1},
    "encoding": {"x": {"field": "k24", "type": "quantitative", "scale": {"domain": [-3, 0.2], "nice": false, "zero": false}, "axis": null},
                 "y": {"field": "k58", "type": "quantitative", "scale": {"domain": [-2.8, 0], "nice": false, "zero": false}, "axis": null},
                 "size": {"condition": {"test": "datum.major", "value": 1600}, "value": 400}}},
   {"data": {"name": "taurus"}, "mark": {"type": "point", "shape": "M-1,-1L1,1M-1,1L1,-1", "filled": false, "stroke": "#000", "strokeWidth": 2.2, "size": 42, "opacity": 1},
    "encoding": {
     "x": {"field": "k24", "type": "quantitative", "scale": {"domain": [-3, 0.2], "nice": false, "zero": false},
           "axis": {"orient": "bottom", "values": [-2, -1, 0], "format": "~g", "labelPadding": 11, "labelFont": "Liberation Serif", "labelFontSize": 36, "title": null}},
     "y": {"field": "k58", "type": "quantitative", "scale": {"domain": [-2.8, 0], "nice": false, "zero": false}, "axis": null}}},
   {"data": {"name": "orion"}, "transform": [{"filter": "datum.region == 'OB1b' && datum.kind == 'circle'"}], "mark": {"type": "point", "shape": "circle", "filled": true, "color": "#000", "size": 100, "opacity": 1},
    "encoding": {"x": {"field": "k24", "type": "quantitative", "scale": {"domain": [-3, 0.2], "nice": false, "zero": false}, "axis": null},
                 "y": {"field": "k58", "type": "quantitative", "scale": {"domain": [-2.8, 0], "nice": false, "zero": false}, "axis": null}}},
   {"data": {"name": "orion"}, "transform": [{"filter": "datum.region == 'OB1b' && datum.kind == 'square'"}], "mark": {"type": "point", "shape": "square", "filled": true, "color": "#000", "size": 130, "opacity": 1},
    "encoding": {"x": {"field": "k24", "type": "quantitative", "scale": {"domain": [-3, 0.2], "nice": false, "zero": false}, "axis": null},
                 "y": {"field": "k58", "type": "quantitative", "scale": {"domain": [-2.8, 0], "nice": false, "zero": false}, "axis": null}}},
   {"data": {"name": "stars"}, "mark": {"type": "point", "shape": "M-1,0L1,0M-0.5,-0.866L0.5,0.866M0.5,-0.866L-0.5,0.866", "filled": false, "stroke": "#000", "strokeWidth": 2, "size": 900, "opacity": 1},
    "encoding": {"x": {"field": "k24", "type": "quantitative", "scale": {"domain": [-3, 0.2], "nice": false, "zero": false}, "axis": null},
                 "y": {"field": "k58", "type": "quantitative", "scale": {"domain": [-2.8, 0], "nice": false, "zero": false}, "axis": null}}},
   {"data": {"name": "groups"}, "transform": [{"filter": "datum.panel != 'left'"}], "mark": {"type": "text", "align": "left", "baseline": "middle", "font": "DejaVu Serif", "fontSize": 23, "fontWeight": "bold", "color": "#6e6e6e"},
    "encoding": {"x": {"field": "lab24", "type": "quantitative", "scale": {"domain": [-3, 0.2], "nice": false, "zero": false}, "axis": null},
                 "y": {"field": "lab58", "type": "quantitative", "scale": {"domain": [-2.8, 0], "nice": false, "zero": false}, "axis": null}, "text": {"field": "name"}}},
   {"data": {"name": "stars"}, "mark": {"type": "text", "align": "left", "baseline": "middle", "font": "DejaVu Serif", "fontSize": 22, "color": "#000"},
    "encoding": {"x": {"field": "lab24", "type": "quantitative", "scale": {"domain": [-3, 0.2], "nice": false, "zero": false}, "axis": null},
                 "y": {"field": "lab58", "type": "quantitative", "scale": {"domain": [-2.8, 0], "nice": false, "zero": false}, "axis": null}, "text": {"field": "name"}}}
  ]
 }
]
}
